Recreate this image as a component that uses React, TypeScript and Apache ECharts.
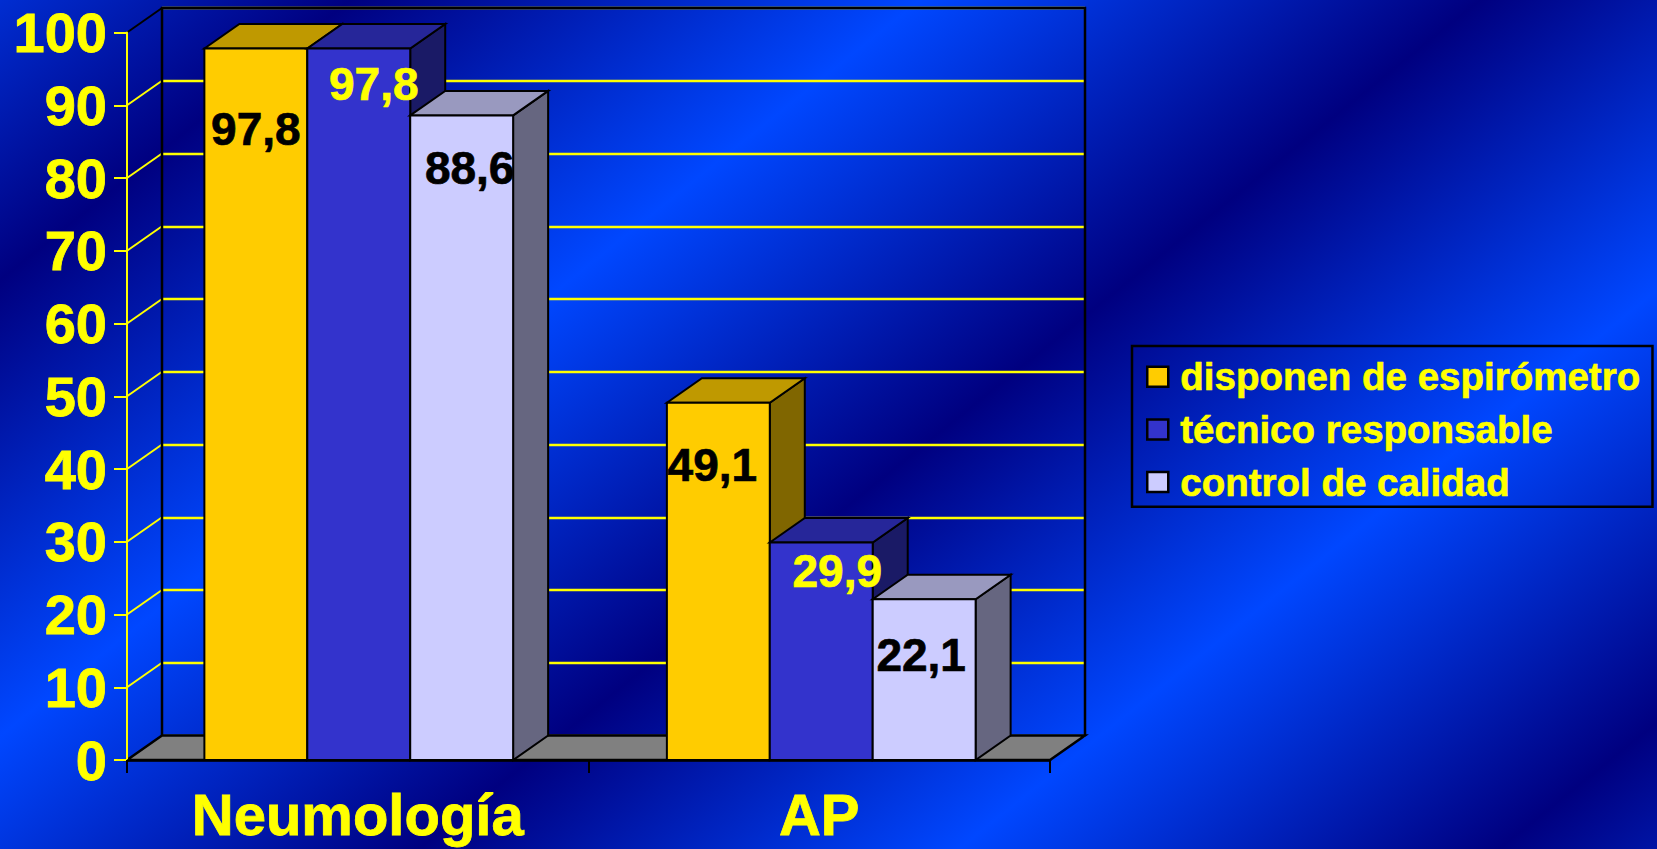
import React, { useEffect, useRef } from "react";
import * as echarts from "echarts";

const categories = ["Neumología", "AP"];
const seriesNames = ["disponen de espirómetro", "técnico responsable", "control de calidad"];
const espirometro = [97.8, 49.1];
const tecnico = [97.8, 29.9];
const calidad = [88.6, 22.1];
const axisTicks = [0, 10, 20, 30, 40, 50, 60, 70, 80, 90, 100];

const WIDTH = 1657;
const HEIGHT = 849;
const FONT = '"Liberation Sans", Arial, sans-serif';
const YELLOW = "#FFFF00";
const DX = 35;
const DY = -24.5;
const GRID = { left: 127, top: 32.5, width: 923, height: 727.5 };

const palettes = [
  { front: "#FFCC00", top: "#BF9900", side: "#806600", label: "#000000" },
  { front: "#3333CC", top: "#262699", side: "#1A1A66", label: YELLOW },
  { front: "#CCCCFF", top: "#9999BF", side: "#666680", label: "#000000" },
];
// hand-placed label offsets from the top centre of each bar's front face
const labelNudges = [
  [[0, 80], [-6, 62]],
  [[15, 35], [16, 29]],
  [[8, 53], [-3, 56]],
];

function barSeries(name: string, values: number[], index: number) {
  const pal = palettes[index];
  return {
    type: "custom",
    name,
    xAxisIndex: 0,
    yAxisIndex: 0,
    z: 5,
    itemStyle: { color: pal.front, borderColor: "#000", borderWidth: 2 },
    data: values.map((v, i) => [i, v]),
    encode: { x: 0, y: 1 },
    renderItem: (_p: any, api: any) => {
      const cat = api.value(0);
      const val = api.value(1);
      const band = api.size([1, 0])[0];
      const w = band * 0.223;
      const center = api.coord([cat, 0])[0] + (index - 1) * w + 1 + cat;
      const x0 = center - w / 2;
      const x1 = center + w / 2;
      const yb = api.coord([cat, 0])[1];
      const yt = api.coord([cat, val])[1];
      const line = { stroke: "#000", lineWidth: 2, lineJoin: "miter" };
      const [nx, ny] = labelNudges[index][cat];
      return {
        type: "group",
        children: [
          {
            type: "polygon",
            shape: { points: [[x1, yt], [x1 + DX, yt + DY], [x1 + DX, yb + DY], [x1, yb]] },
            style: { fill: pal.side, ...line },
          },
          {
            type: "polygon",
            shape: { points: [[x0, yt], [x0 + DX, yt + DY], [x1 + DX, yt + DY], [x1, yt]] },
            style: { fill: pal.top, ...line },
          },
          {
            type: "rect",
            shape: { x: x0, y: yt, width: w, height: yb - yt },
            style: { fill: pal.front, ...line },
          },
          {
            type: "text",
            z2: 100,
            x: center + nx,
            y: yt + ny,
            style: {
              text: val.toFixed(1).replace(".", ","),
              fill: pal.label,
              stroke: pal.label,
              lineWidth: 0.7,
              fontFamily: FONT,
              fontWeight: "bold",
              fontSize: 46,
              align: "center",
              verticalAlign: "middle",
            },
          },
        ],
      };
    },
  };
}

export default function App() {
  const ref = useRef<HTMLDivElement>(null);

  useEffect(() => {
    if (!ref.current) return;
    const chart = echarts.init(ref.current, undefined, { renderer: "svg" });
    // diagonal background bands, expressed as positions along x + k*y
    const k = 1.25;
    const n = 1 + k * k;
    const c0 = -200;
    const c1 = 3100;
    const bandStops = [
      [-200, "#0047FF"],
      [350, "#000080"],
      [920, "#0047FF"],
      [1480, "#000080"],
      [2020, "#0047FF"],
      [2560, "#000080"],
      [3100, "#0047FF"],
    ] as [number, string][];
    const background = new echarts.graphic.LinearGradient(
      c0 / n,
      (k * c0) / n,
      c1 / n,
      (k * c1) / n,
      bandStops.map(([c, color]) => ({ offset: (c - c0) / (c1 - c0), color })),
      true
    );

    chart.setOption({
      animation: false,
      backgroundColor: background,
      tooltip: { show: false },
      grid: [
        { ...GRID },
        { ...GRID, left: GRID.left + DX, top: GRID.top + DY },
      ],
      legend: {
        left: 1132,
        top: 346,
        orient: "vertical",
        data: seriesNames,
        icon: "rect",
        itemWidth: 21,
        itemHeight: 20,
        itemGap: 13,
        padding: [11, 12, 5, 14],
        borderColor: "#000",
        borderWidth: 2.5,
        inactiveColor: "#888",
        selectedMode: false,
        itemStyle: { borderColor: "#000", borderWidth: 2.5 },
        textStyle: {
          color: YELLOW,
          fontFamily: FONT,
          fontWeight: "bold",
          fontSize: 38.5,
          padding: [0, 0, 0, 7],
          textBorderColor: YELLOW,
          textBorderWidth: 0.6,
        },
      },
      xAxis: [
        {
          type: "category",
          gridIndex: 0,
          data: categories,
          z: 6,
          axisLine: { show: true, lineStyle: { color: "#000", width: 2.5 } },
          axisTick: { show: true, length: 13, alignWithLabel: false, lineStyle: { color: "#000", width: 2 } },
          axisLabel: {
            color: YELLOW,
            fontFamily: FONT,
            fontWeight: "bold",
            fontSize: 58,
            margin: 25,
            textBorderColor: YELLOW,
            textBorderWidth: 0.8,
          },
        },
        {
          type: "category",
          gridIndex: 1,
          data: categories,
          axisLine: { show: false },
          axisTick: { show: false },
          axisLabel: { show: false },
        },
      ],
      yAxis: [
        {
          type: "value",
          gridIndex: 0,
          min: 0,
          max: 100,
          interval: 10,
          z: 6,
          axisLine: { show: true, lineStyle: { color: YELLOW, width: 2 } },
          axisTick: { show: true, length: 13, lineStyle: { color: YELLOW, width: 2 } },
          splitLine: { show: false },
          axisLabel: {
            color: YELLOW,
            fontFamily: FONT,
            fontWeight: "bold",
            fontSize: 56,
            margin: 20,
            textBorderColor: YELLOW,
            textBorderWidth: 0.8,
          },
        },
        {
          type: "value",
          gridIndex: 1,
          min: 0,
          max: 100,
          interval: 10,
          axisLine: { show: false },
          axisTick: { show: false },
          axisLabel: { show: false },
          splitLine: { show: true, lineStyle: { color: YELLOW, width: 2.4 } },
        },
      ],
      series: [
        {
          // side-wall connectors from the front axis to the back wall
          type: "custom",
          name: "connectors",
          xAxisIndex: 0,
          yAxisIndex: 0,
          z: 2,
          data: axisTicks.map((t) => [0, t]),
          encode: { x: 0, y: 1 },
          renderItem: (p: any, api: any) => {
            const v = api.value(1);
            if (v === 0) return null;
            const y = api.coord([0, v])[1];
            const x = p.coordSys.x;
            return {
              type: "line",
              shape: { x1: x, y1: y, x2: x + DX, y2: y + DY },
              style: { stroke: v === 100 ? "#000" : YELLOW, lineWidth: 2 },
            };
          },
        },
        {
          // floor and back-wall outline
          type: "custom",
          name: "walls",
          xAxisIndex: 0,
          yAxisIndex: 0,
          z: 3,
          data: [[0, 0]],
          encode: { x: 0, y: 1 },
          renderItem: (p: any) => {
            const { x, y, width, height } = p.coordSys;
            const yb = y + height;
            return {
              type: "group",
              children: [
                {
                  type: "polygon",
                  shape: { points: [[x, yb], [x + DX, yb + DY], [x + width + DX, yb + DY], [x + width, yb]] },
                  style: { fill: "#808080", stroke: "#000", lineWidth: 2.5 },
                },
                {
                  type: "polyline",
                  shape: {
                    points: [
                      [x + DX, yb + DY],
                      [x + DX, y + DY],
                      [x + width + DX, y + DY],
                      [x + width + DX, yb + DY],
                    ],
                  },
                  style: { fill: "none", stroke: "#000", lineWidth: 2.5 },
                },
              ],
            };
          },
        },
        barSeries(seriesNames[0], espirometro, 0),
        barSeries(seriesNames[1], tecnico, 1),
        barSeries(seriesNames[2], calidad, 2),
      ],
    });
    return () => chart.dispose();
  }, []);

  return (
    <div
      ref={ref}
      style={{ position: "absolute", left: 0, top: 0, width: WIDTH, height: HEIGHT }}
    />
  );
}
